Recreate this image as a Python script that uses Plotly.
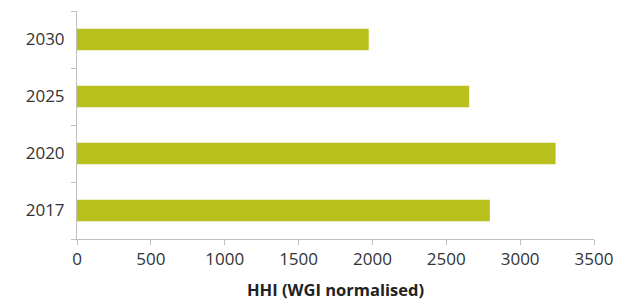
import plotly.graph_objects as go

years = ["2017", "2020", "2025", "2030"]
hhi = [2795, 3240, 2655, 1975]
x_ticks = [0, 500, 1000, 1500, 2000, 2500, 3000, 3500]

fig = go.Figure(go.Bar(
    y=years, x=hhi, orientation="h",
    marker=dict(color="#b9c11f", line=dict(width=0)),
))

font_family = "Open Sans, Noto Sans, sans-serif"
# page body adds an 8px offset, so the figure is sized to fit the window
fig.update_layout(
    width=617, height=296,
    margin=dict(l=69, r=31, t=3, b=65, autoexpand=False),
    paper_bgcolor="white", plot_bgcolor="white",
    bargap=0.62,
    showlegend=False,
    font=dict(family=font_family, size=17, color="#333333"),
)
fig.update_xaxes(
    range=[0, 3500], tickvals=x_ticks,
    showgrid=False, zeroline=False, automargin=False,
    showline=True, linecolor="#bfbfbf", linewidth=1,
    ticks="outside", ticklen=5, tickcolor="#bfbfbf",
    tickfont=dict(size=17, color="#333333"),
    title=dict(text="<b>HHI (WGI normalised)</b>", font=dict(size=16.5, color="#222222"), standoff=15),
)
fig.update_yaxes(
    type="category", categoryorder="array", categoryarray=years,
    showgrid=False, zeroline=False, automargin=False,
    showline=True, linecolor="#bfbfbf", linewidth=1,
    ticks="outside", ticklen=5, tickcolor="#bfbfbf", tickson="boundaries",
    tickfont=dict(size=17, color="#333333"),
    ticklabelstandoff=8,
)
fig.write_html("out.html")
